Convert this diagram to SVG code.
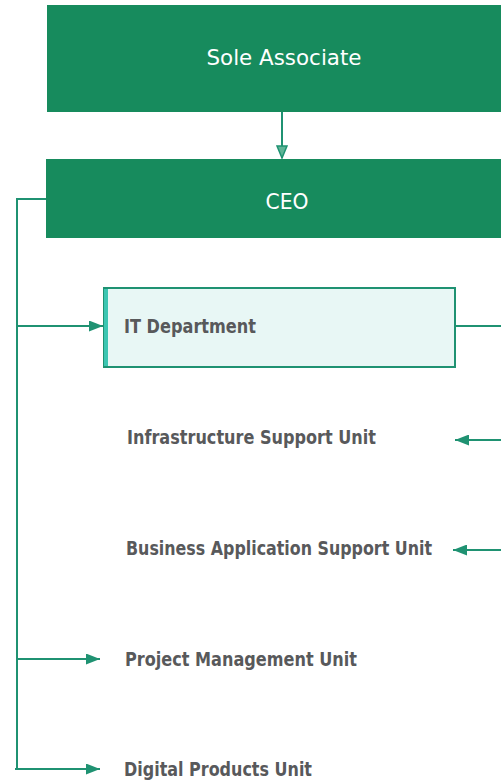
<svg xmlns="http://www.w3.org/2000/svg" width="501" height="781" viewBox="0 0 501 781">
<defs>
<style>
.hdr{fill:#178b5d}
.ht{fill:#ffffff;font-family:"DejaVu Sans Condensed","DejaVu Sans",sans-serif;font-size:22px;text-anchor:middle}
.lbl{fill:#58595b;font-family:"DejaVu Sans Condensed","DejaVu Sans",sans-serif;font-weight:bold;font-size:20px}
.c{stroke:#1f9272;stroke-width:2;fill:none}
</style>
<marker id="ah" viewBox="0 0 14 11" refX="14" refY="5.5" markerWidth="14" markerHeight="11" markerUnits="userSpaceOnUse" orient="auto">
<path d="M0,0 L14,5.5 L0,11 Z" fill="#1f9272"/>
</marker>
<marker id="ah2" viewBox="0 0 14 12" refX="13" refY="6" markerWidth="14" markerHeight="12" markerUnits="userSpaceOnUse" orient="auto">
<path d="M1,1 L13,6 L1,11 Z" fill="#5fb597" stroke="#1f9272" stroke-width="1.5"/>
</marker>
</defs>
<rect width="501" height="781" fill="#ffffff"/>
<g id="sole-associate">
<rect class="hdr" x="47" y="5" width="460" height="107"/>
<text class="ht" x="284" y="65" textLength="155" lengthAdjust="spacingAndGlyphs">Sole Associate</text>
</g>
<g id="ceo">
<rect class="hdr" x="46" y="159" width="460" height="79"/>
<text class="ht" x="287" y="209" textLength="43" lengthAdjust="spacingAndGlyphs" style="font-size:21px">CEO</text>
</g>
<g id="it-department">
<rect x="104" y="288" width="351" height="79" fill="#e8f7f5" stroke="#1f9272" stroke-width="2"/>
<rect x="104" y="289" width="4" height="77" fill="#3cc6b2"/>
<text class="lbl" x="124" y="333" textLength="132" lengthAdjust="spacingAndGlyphs">IT Department</text>
</g>
<g id="infrastructure-support-unit">
<text class="lbl" x="127" y="444" textLength="249" lengthAdjust="spacingAndGlyphs">Infrastructure Support Unit</text>
</g>
<g id="business-application-support-unit">
<text class="lbl" x="126" y="555" textLength="306" lengthAdjust="spacingAndGlyphs">Business Application Support Unit</text>
</g>
<g id="project-management-unit">
<text class="lbl" x="125" y="666" textLength="232" lengthAdjust="spacingAndGlyphs">Project Management Unit</text>
</g>
<g id="digital-products-unit">
<text class="lbl" x="124" y="776" textLength="188" lengthAdjust="spacingAndGlyphs">Digital Products Unit</text>
</g>
<g id="connectors">
<path class="c" d="M282,112 V158" marker-end="url(#ah2)"/>
<path class="c" d="M46,199 H17 V769"/>
<path class="c" d="M17,326 H103" marker-end="url(#ah)"/>
<path class="c" d="M17,659 H100" marker-end="url(#ah)"/>
<path class="c" d="M15,769 H100" marker-end="url(#ah)"/>
<path class="c" d="M455,326 H501"/>
<path class="c" d="M501,440 H455" marker-end="url(#ah)"/>
<path class="c" d="M501,550 H453" marker-end="url(#ah)"/>
</g>
</svg>
